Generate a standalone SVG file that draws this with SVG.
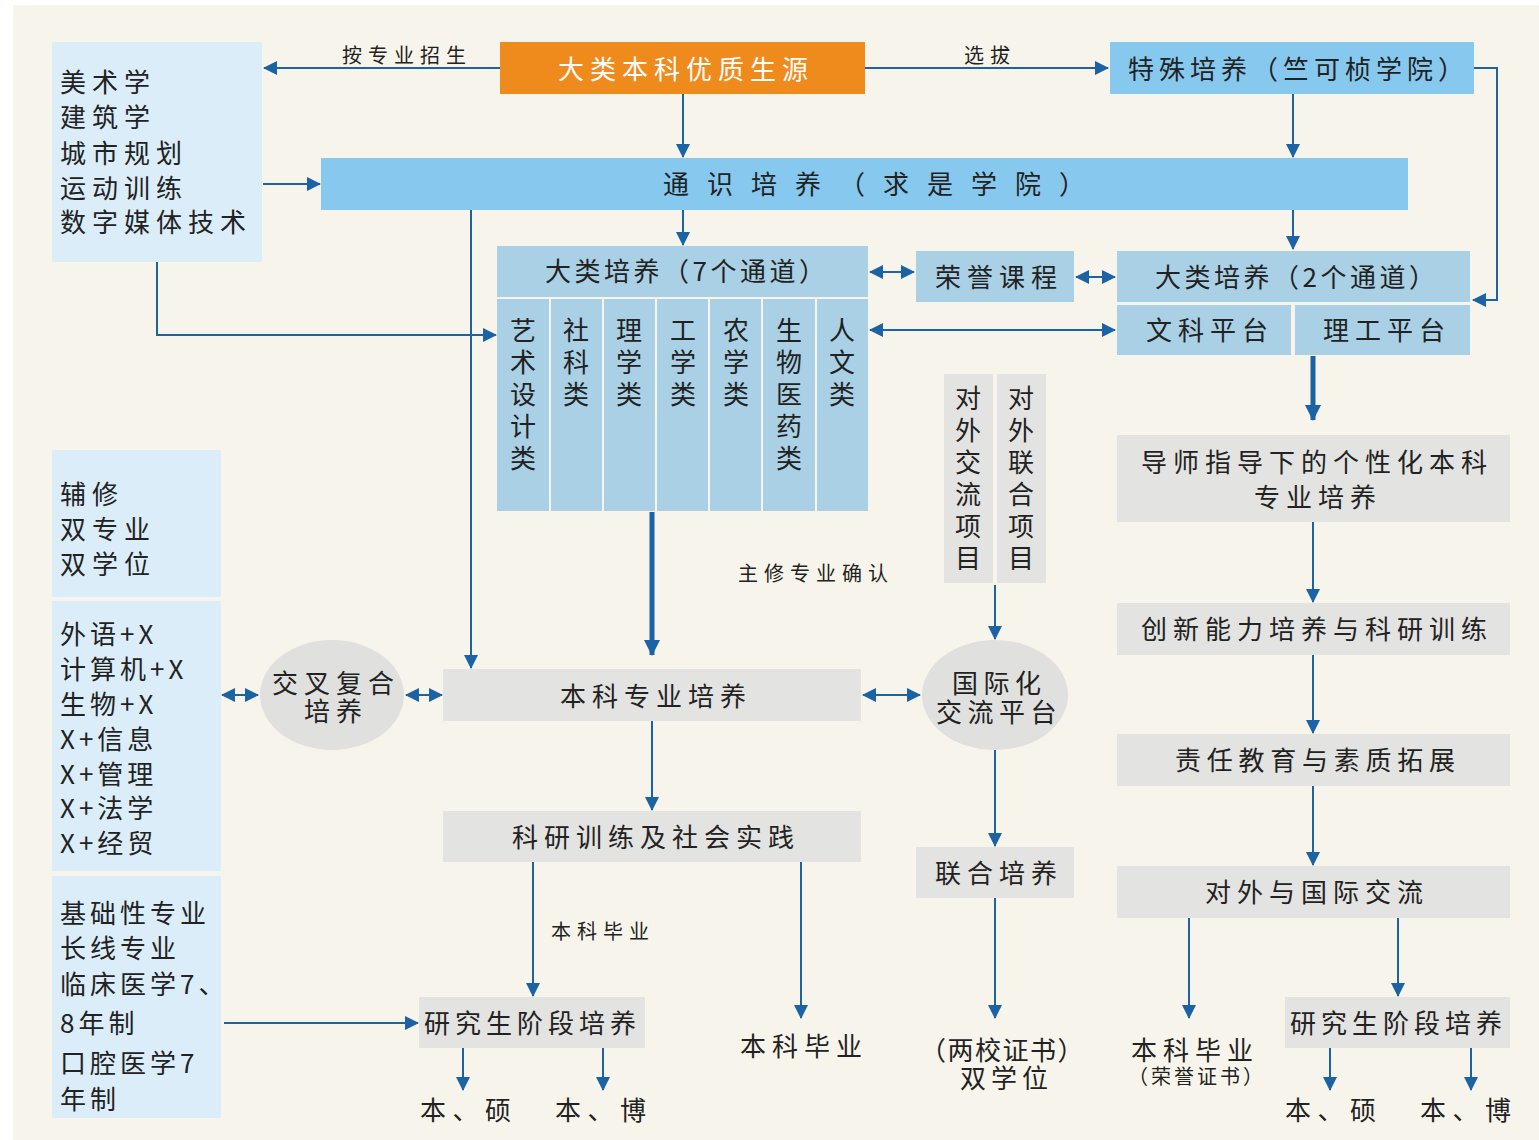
<svg xmlns="http://www.w3.org/2000/svg" width="1539" height="1140" viewBox="0 0 1539 1140">
<defs>
<marker id="ah" markerUnits="userSpaceOnUse" markerWidth="14" markerHeight="14" viewBox="0 0 14 14" refX="13" refY="7" orient="auto-start-reverse">
<path d="M0,0 L14,7 L0,14 z" fill="#1c63a6"/>
</marker>
<marker id="ahb" markerUnits="userSpaceOnUse" markerWidth="16" markerHeight="16" viewBox="0 0 16 16" refX="15" refY="8" orient="auto-start-reverse">
<path d="M0,0 L16,8 L0,16 z" fill="#1c63a6"/>
</marker>
</defs>
<style>
text{font-family:"Noto Sans CJK SC","Noto Sans",sans-serif;fill:#222;dominant-baseline:central;}
.t26{font-size:26px;letter-spacing:6px;}
.t20{font-size:20px;letter-spacing:6px;}
.v{font-size:26px;letter-spacing:6px;writing-mode:vertical-rl;dominant-baseline:central;}
.lb{fill:#dcedfa;}
.hb{fill:#87c9ee;}
.ch{fill:#a9d0e5;}
.gr{fill:#e3e3e1;}
.ln{fill:none;stroke:#1c63a6;stroke-width:2;}
.lt{fill:none;stroke:#1c63a6;stroke-width:5;}
.e{marker-end:url(#ah);}
.d{marker-start:url(#ah);marker-end:url(#ah);}
</style>
<rect x="0" y="0" width="1539" height="1140" fill="#ffffff"/>
<rect x="13" y="5" width="1526" height="1135" fill="#f7f5eb"/>

<g id="connectors">
<path class="ln e" d="M500,68 H264"/>
<path class="ln e" d="M865,68 H1108"/>
<path class="ln e" d="M1474,68 H1497 V300 H1473"/>
<path class="ln e" d="M683,94 V157"/>
<path class="ln e" d="M1293,94 V157"/>
<path class="ln e" d="M263,184 H320"/>
<path class="ln e" d="M683,210 V245"/>
<path class="ln e" d="M1293,210 V249"/>
<path class="ln e" d="M471,210 V668"/>
<path class="ln e" d="M157,262 V335 H496"/>
<path class="ln d" d="M870,272 H914"/>
<path class="ln d" d="M1076,277 H1115"/>
<path class="ln d" d="M870,330 H1115"/>
<path class="lt" d="M1313,356 V420" style="marker-end:url(#ahb)"/>
<path class="ln e" d="M1313,522 V602"/>
<path class="ln e" d="M1313,655 V733"/>
<path class="ln e" d="M1313,786 V865"/>
<path class="ln e" d="M1189,918 V1018"/>
<path class="ln e" d="M1398,918 V996"/>
<path class="ln e" d="M1330,1048 V1090"/>
<path class="ln e" d="M1471,1048 V1090"/>
<path class="lt" d="M652,512 V655" style="marker-end:url(#ahb)"/>
<path class="ln e" d="M995,585 V639"/>
<path class="ln d" d="M863,695 H920"/>
<path class="ln d" d="M222,695 H258"/>
<path class="ln d" d="M406,695 H442"/>
<path class="ln e" d="M652,721 V810"/>
<path class="ln e" d="M533,862 V996"/>
<path class="ln e" d="M801,862 V1018"/>
<path class="ln e" d="M224,1023 H418"/>
<path class="ln e" d="M463,1048 V1090"/>
<path class="ln e" d="M603,1048 V1090"/>
<path class="ln e" d="M995,750 V846"/>
<path class="ln e" d="M995,898 V1018"/>
<text class="t20" x="342" y="54">按专业招生</text>
<text class="t20" x="964" y="54">选拔</text>
<text class="t20" x="738" y="572">主修专业确认</text>
<text class="t20" x="551" y="930">本科毕业</text>
</g>

<g id="left-arts">
<rect class="lb" x="52" y="42" width="210" height="220"/>
<text class="t26" x="60" y="80">美术学<tspan x="60" dy="35">建筑学</tspan><tspan x="60" dy="35.5">城市规划</tspan><tspan x="60" dy="35">运动训练</tspan><tspan x="60" dy="34.5">数字媒体技术</tspan></text>
</g>

<g id="source">
<rect x="500" y="42" width="365" height="52" fill="#ef8a1d"/>
<text class="t26" x="558" y="67" style="fill:#fff">大类本科优质生源</text>
</g>

<g id="special">
<rect class="hb" x="1110" y="42" width="364" height="52"/>
<text class="t26" x="1128" y="67" style="letter-spacing:5px">特殊培养（竺可桢学院）</text>
</g>

<g id="general">
<rect class="hb" x="321" y="158" width="1087" height="52"/>
<text class="t26" x="663" y="182" style="letter-spacing:18px">通识培养（求是学院）</text>
</g>

<g id="cat7">
<rect class="ch" x="497" y="246" width="371" height="51"/>
<text class="t26" x="545" y="269" style="letter-spacing:3.5px">大类培养（7个通道）</text>
<rect class="ch" x="497" y="299" width="52" height="212"/>
<rect class="ch" x="551" y="299" width="51" height="212"/>
<rect class="ch" x="604" y="299" width="51" height="212"/>
<rect class="ch" x="657" y="299" width="51" height="212"/>
<rect class="ch" x="710" y="299" width="51" height="212"/>
<rect class="ch" x="763" y="299" width="52" height="212"/>
<rect class="ch" x="817" y="299" width="51" height="212"/>
<text class="v" x="523" y="317">艺术设计类</text>
<text class="v" x="576" y="317">社科类</text>
<text class="v" x="629" y="317">理学类</text>
<text class="v" x="683" y="317">工学类</text>
<text class="v" x="736" y="317">农学类</text>
<text class="v" x="789" y="317">生物医药类</text>
<text class="v" x="842" y="317">人文类</text>
</g>

<g id="honor">
<rect class="ch" x="916" y="251" width="158" height="51"/>
<text class="t26" x="935" y="275">荣誉课程</text>
</g>

<g id="cat2">
<rect class="ch" x="1117" y="251" width="353" height="51"/>
<text class="t26" x="1155" y="275" style="letter-spacing:3.5px">大类培养（2个通道）</text>
<rect class="ch" x="1117" y="305" width="174" height="50"/>
<text class="t26" x="1146" y="328">文科平台</text>
<rect class="ch" x="1295" y="305" width="175" height="50"/>
<text class="t26" x="1323" y="328">理工平台</text>
</g>

<g id="mentor">
<rect class="gr" x="1117" y="435" width="393" height="87"/>
<text class="t26" x="1141" y="460">导师指导下的个性化本科<tspan x="1254" dy="35">专业培养</tspan></text>
</g>
<g id="innovation">
<rect class="gr" x="1117" y="603" width="393" height="52"/>
<text class="t26" x="1141" y="627">创新能力培养与科研训练</text>
</g>
<g id="responsibility">
<rect class="gr" x="1117" y="734" width="393" height="52"/>
<text class="t26" x="1175" y="758" style="letter-spacing:5.75px">责任教育与素质拓展</text>
</g>
<g id="intl-exchange">
<rect class="gr" x="1117" y="866" width="393" height="52"/>
<text class="t26" x="1205" y="890">对外与国际交流</text>
</g>
<g id="grad-right">
<rect class="gr" x="1285" y="997" width="225" height="51"/>
<text class="t26" x="1290" y="1021" style="letter-spacing:5px">研究生阶段培养</text>
<text class="t26" x="1285" y="1108" style="letter-spacing:6.5px">本、硕</text>
<text class="t26" x="1420" y="1108" style="letter-spacing:6.5px">本、博</text>
</g>
<g id="honor-grad">
<text class="t26" x="1131" y="1048">本科毕业<tspan class="t20" x="1128" dy="27" style="font-size:20px;letter-spacing:3px">（荣誉证书）</tspan></text>
</g>

<g id="exchange-projects">
<rect class="gr" x="944" y="374" width="49" height="209"/>
<rect class="gr" x="997" y="374" width="49" height="209"/>
<text class="v" x="968" y="385">对外交流项目</text>
<text class="v" x="1021" y="385">对外联合项目</text>
</g>

<g id="intl-platform">
<ellipse cx="995" cy="695" rx="73" ry="55" fill="#e0e0de"/>
<text class="t26" x="952" y="681" style="letter-spacing:5.5px">国际化<tspan x="936" dy="29">交流平台</tspan></text>
</g>

<g id="joint">
<rect class="gr" x="916" y="847" width="158" height="51"/>
<text class="t26" x="935" y="871">联合培养</text>
</g>
<g id="double-degree">
<text class="t26" x="920" y="1048" style="letter-spacing:1.5px">（两校证书）<tspan x="960" dy="28" style="letter-spacing:5px">双学位</tspan></text>
</g>

<g id="major">
<rect class="gr" x="443" y="669" width="418" height="52"/>
<text class="t26" x="560" y="694">本科专业培养</text>
</g>

<g id="cross">
<ellipse cx="332" cy="695" rx="72" ry="55" fill="#e0e0de"/>
<text class="t26" x="272" y="681">交叉复合<tspan x="304" dy="28">培养</tspan></text>
</g>

<g id="left-minor">
<rect class="lb" x="52" y="450" width="169" height="147"/>
<text class="t26" x="60" y="492">辅修<tspan x="60" dy="35">双专业</tspan><tspan x="60" dy="35">双学位</tspan></text>
</g>
<g id="left-x">
<rect class="lb" x="52" y="601" width="169" height="270"/>
<text class="t26" x="60" y="632" style="letter-spacing:4px">外语+X<tspan x="60" dy="35">计算机+X</tspan><tspan x="60" dy="35">生物+X</tspan><tspan x="60" dy="35">X+信息</tspan><tspan x="60" dy="35">X+管理</tspan><tspan x="60" dy="34">X+法学</tspan><tspan x="60" dy="35">X+经贸</tspan></text>
</g>
<g id="left-long">
<rect class="lb" x="52" y="876" width="169" height="242"/>
<text class="t26" x="60" y="911" style="letter-spacing:4px">基础性专业<tspan x="60" dy="35">长线专业</tspan><tspan x="60" dy="36">临床医学7、</tspan><tspan x="60" dy="39">8年制</tspan><tspan x="60" dy="40">口腔医学7</tspan><tspan x="60" dy="36">年制</tspan></text>
</g>

<g id="research">
<rect class="gr" x="443" y="811" width="418" height="51"/>
<text class="t26" x="512" y="835">科研训练及社会实践</text>
</g>

<g id="grad-left">
<rect class="gr" x="419" y="997" width="226" height="51"/>
<text class="t26" x="424" y="1021" style="letter-spacing:5px">研究生阶段培养</text>
<text class="t26" x="420" y="1108" style="letter-spacing:6.5px">本、硕</text>
<text class="t26" x="555" y="1108" style="letter-spacing:6.5px">本、博</text>
</g>

<g id="graduate">
<text class="t26" x="740" y="1044">本科毕业</text>
</g>
</svg>
